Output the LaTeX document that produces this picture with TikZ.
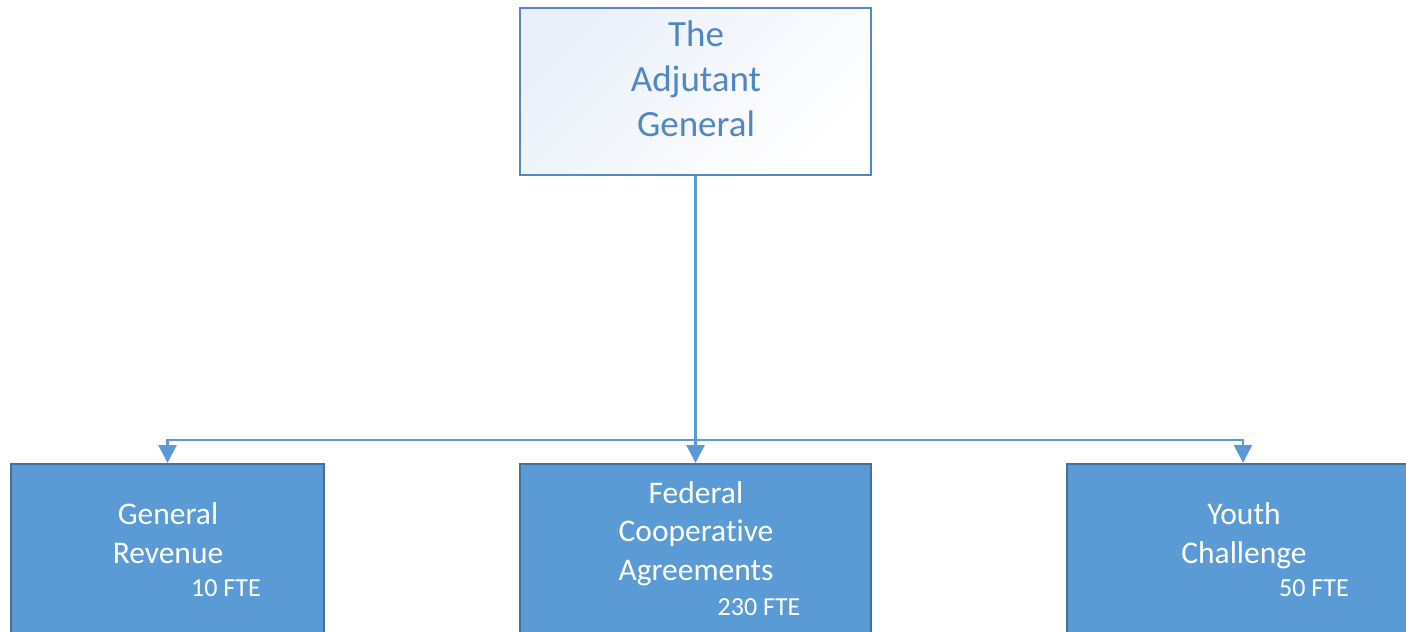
\documentclass[tikz,border=0pt]{standalone}
\usepackage{fontspec}
\setmainfont{Carlito}[Ligatures=NoCommon]
\usetikzlibrary{arrows.meta}
\definecolor{boxblue}{HTML}{5B9BD5}
\definecolor{boxedge}{HTML}{41719C}
\definecolor{topedge}{HTML}{5089C6}
\definecolor{toptext}{HTML}{4F87C3}
\definecolor{topfill}{HTML}{EAEFF9}
\begin{document}
\begin{tikzpicture}[x=1pt,y=-1pt,
  topbox/.style={draw=topedge, line width=2pt, minimum width=351pt, minimum height=167pt,
    top color=topfill, bottom color=white, shading angle=45, inner sep=0pt},
  unitbox/.style={draw=boxedge, fill=boxblue, line width=2pt, minimum height=200pt,
    inner sep=0pt, anchor=north},
  toptxt/.style={text=toptext, font=\fontsize{37}{45}\selectfont, align=center, anchor=base, inner sep=0pt},
  unittxt/.style={text=white, font=\fontsize{31.5}{38.5}\selectfont, align=center, anchor=base, inner sep=0pt},
  ftetxt/.style={text=white, font=\fontsize{26}{31}\selectfont, anchor=base, inner sep=0pt},
  link/.style={draw=boxblue, line width=2.5pt, -{Triangle[width=18pt,length=18pt]}}
]
\useasboundingbox (0,0) rectangle (1406,632);
\clip (0,0) rectangle (1406,632);

\node[topbox] (adj) at (695.5,91.5) {};
\node[toptxt] (adjT) at (696,136) {The\\Adjutant\\General};

\node[unitbox, minimum width=313pt] (gen) at (167.5,463) {};
\node[unitbox, minimum width=351pt] (fed) at (695.5,463) {};
\node[unitbox, minimum width=352pt] (youth) at (1243,463) {};

\node[unittxt] (genT) at (168,563) {General\\Revenue};
\node[ftetxt] (genF) at (226,596) {10 FTE};
\node[unittxt] (fedT) at (696,580) {Federal\\Cooperative\\Agreements};
\node[ftetxt] (fedF) at (759,615) {230 FTE};
\node[unittxt] (youthT) at (1244,563) {Youth\\Challenge};
\node[ftetxt] (youthF) at (1314,596) {50 FTE};

\coordinate (bus) at (695.5,440);
\draw[link] (adj.south) -- (fed.north);
\draw[link] (bus) -| (gen.north);
\draw[link] (bus) -| (youth.north);
\end{tikzpicture}
\end{document}
